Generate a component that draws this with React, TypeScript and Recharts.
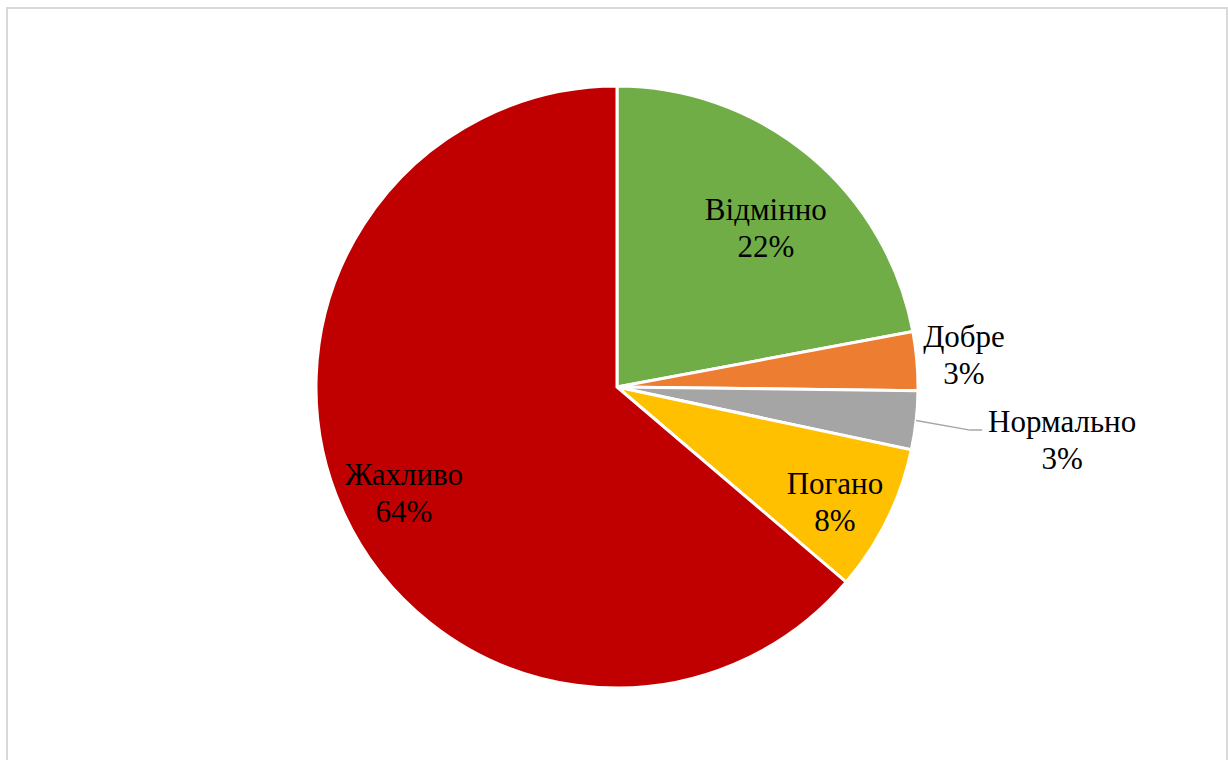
import { PieChart, Pie, Cell } from "recharts";

const names = ["Відмінно", "Добре", "Нормально", "Погано", "Жахливо"];
const counts = [28, 4, 4, 10, 81];
const colors = ["#70AD47", "#ED7D31", "#A5A5A5", "#FFC000", "#C00000"];

const data = names.map((name, i) => ({ name, value: counts[i] }));

// label distance (fraction of radius) and a small angle nudge, per slice
const labelRadius = [0.724, 1.158, 1.489, 0.818, 0.79];
const labelNudge = [3.4, -0.4, 0.3, 1.5, -1.5];

const RAD = Math.PI / 180;
const serif = "Liberation Serif";

function renderLabel(props: any) {
  const { cx, cy, midAngle, outerRadius, percent, index, name } = props;
  // clockwise from 12 o'clock
  const theta = (90 - midAngle + labelNudge[index]) * RAD;
  const r = outerRadius * labelRadius[index];
  const x = cx + r * Math.sin(theta);
  const y = cy - r * Math.cos(theta);
  const pct = Math.round(percent * 100) + "%";

  let leader = null;
  if (index === 2) {
    const t0 = (90 - midAngle) * RAD;
    const sx = cx + outerRadius * Math.sin(t0);
    const sy = cy - outerRadius * Math.cos(t0);
    const textLeft = x - 76;
    leader = (
      <polyline
        points={`${sx},${sy} ${textLeft - 16},${y - 9} ${textLeft - 4},${y - 9}`}
        fill="none"
        stroke="#A6A6A6"
        strokeWidth={1.5}
      />
    );
  }

  return (
    <g key={`lbl-${index}`}>
      {leader}
      <text x={x} textAnchor="middle" fontFamily={serif} fontSize={31} fill="#000">
        <tspan x={x} y={y - 7.5}>
          {name}
        </tspan>
        <tspan x={x} y={y + 29.5}>
          {pct}
        </tspan>
      </text>
    </g>
  );
}

export default function App() {
  return (
    <div
      style={{
        position: "absolute",
        left: 0,
        top: 0,
        width: 1228,
        height: 760,
        background: "#fff",
        overflow: "hidden",
      }}
    >
      <div
        style={{
          position: "absolute",
          left: 6,
          top: 7,
          width: 1222,
          height: 800,
          border: "2px solid #D9D9D9",
          boxSizing: "border-box",
        }}
      />
      <div style={{ position: "absolute", left: 0, top: 0 }}>
        <PieChart width={1228} height={760} margin={{ top: 0, right: 0, bottom: 0, left: 0 }}>
          <Pie
            data={data}
            dataKey="value"
            nameKey="name"
            cx={617}
            cy={387}
            outerRadius={301}
            startAngle={90}
            endAngle={-270}
            stroke="#fff"
            strokeWidth={3}
            label={renderLabel}
            labelLine={false}
            isAnimationActive={false}
          >
            {data.map((d, i) => (
              <Cell key={d.name} fill={colors[i]} />
            ))}
          </Pie>
        </PieChart>
      </div>
    </div>
  );
}
